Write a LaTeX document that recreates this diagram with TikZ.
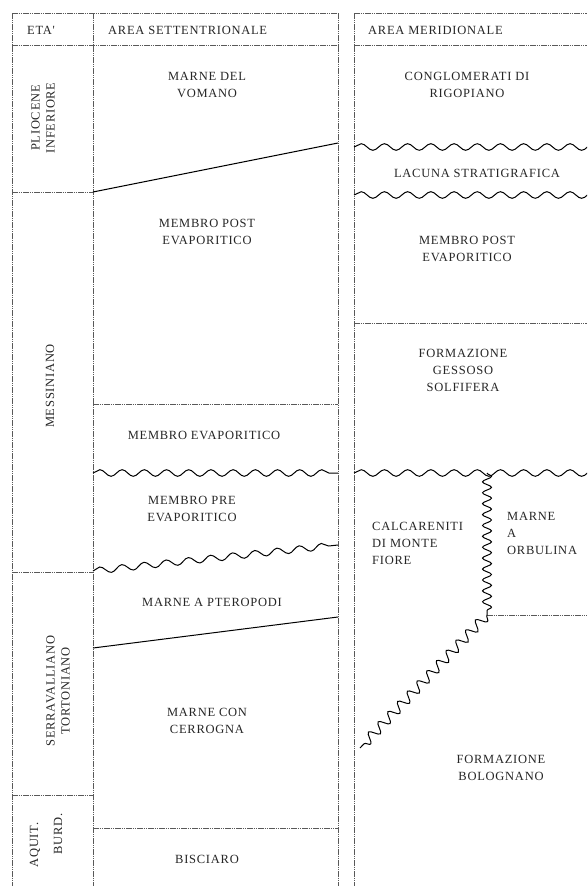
\documentclass[tikz,border=0pt]{standalone}
\usepackage{fontspec}
\setmainfont{Liberation Serif}
\newfontfamily\lblfam[LetterSpace=6]{Liberation Serif}
\usetikzlibrary{decorations.pathmorphing}
\tikzset{
  gridline/.style={draw=black!65, line width=0.6pt, dash pattern=on 1.6pt off 0.6pt},
  bound/.style={draw=black, line width=1pt},
  wavy/.style={draw=black, line width=1pt, decorate,
    decoration={snake, segment length=#1, amplitude=3.3pt}},
  wavy/.default=22.2pt,
  vwavy/.style={draw=black, line width=1pt, decorate,
    decoration={snake, segment length=10.9pt, amplitude=4.5pt}},
  dwavy/.style={draw=black, line width=1pt, decorate,
    decoration={snake, segment length=14.1pt, amplitude=5pt}},
  lbl/.style={font=\lblfam\fontsize{12.5}{17}\selectfont, align=center, text=black!85, inner sep=0pt},
  agelbl/.style={font=\lblfam\fontsize{12.5}{15}\selectfont, align=center, text=black!85, inner sep=0pt, rotate=90},
}
\begin{document}
\begin{tikzpicture}[x=1pt,y=-1pt]
\useasboundingbox (0,0) rectangle (587,886);
\fill[white] (0,0) rectangle (587,886);

% ---- coordinates: left table
\coordinate (LTL) at (12,13);   \coordinate (LBL) at (12,886);
\coordinate (LTM) at (93,13);   \coordinate (LBM) at (93,886);
\coordinate (LTR) at (338,13);  \coordinate (LBR) at (338,886);
\coordinate (LHL) at (12,45);   \coordinate (LHR) at (338,45);
\coordinate (A1L) at (12,192);  \coordinate (A1R) at (93,192);
\coordinate (A2L) at (12,572);  \coordinate (A2R) at (93,572);
\coordinate (A3L) at (12,795);  \coordinate (A3R) at (93,795);
\coordinate (S1L) at (93,192);  \coordinate (S1R) at (338,143);
\coordinate (D1L) at (93,404);  \coordinate (D1R) at (338,404);
\coordinate (W1L) at (93,473);  \coordinate (W1R) at (338,473);
\coordinate (W2L) at (93,571);  \coordinate (W2R) at (338,545);
\coordinate (S2L) at (93,648);  \coordinate (S2R) at (338,617);
\coordinate (D2L) at (93,828);  \coordinate (D2R) at (338,828);

% ---- coordinates: right table
\coordinate (RTL) at (354,13);  \coordinate (RBL) at (354,886);
\coordinate (RTR) at (587,13);
\coordinate (RHL) at (354,45);  \coordinate (RHR) at (587,45);
\coordinate (RW1L) at (354,147); \coordinate (RW1R) at (610,147);
\coordinate (RW2L) at (354,195); \coordinate (RW2R) at (610,195);
\coordinate (RD1L) at (354,323); \coordinate (RD1R) at (587,323);
\coordinate (RW3L) at (354,473); \coordinate (RW3R) at (610,473);
\coordinate (J1) at (487,473);
\coordinate (J2) at (487,615);
\coordinate (RD2R) at (587,615);
\coordinate (JE) at (360,748);

% ---- grid lines
\draw[gridline] (LTL) -- (LBL);
\draw[gridline] (LTM) -- (LBM);
\draw[gridline] (LTR) -- (LBR);
\draw[gridline] (LTL) -- (LTR);
\draw[gridline] (LHL) -- (LHR);
\draw[gridline] (A1L) -- (A1R);
\draw[gridline] (A2L) -- (A2R);
\draw[gridline] (A3L) -- (A3R);
\draw[gridline] (D1L) -- (D1R);
\draw[gridline] (D2L) -- (D2R);

\draw[gridline] (RTL) -- (RBL);
\draw[gridline] (RTL) -- (RTR);
\draw[gridline] (RHL) -- (RHR);
\draw[gridline] (RD1L) -- (RD1R);
\draw[gridline] (J2) -- (RD2R);

% ---- boundaries
\draw[bound] (S1L) -- (S1R);
\draw[bound] (S2L) -- (S2R);
\draw[wavy=22.2pt] (W1L) -- (W1R);
\draw[wavy=22.3pt] (W2L) -- (W2R);
\begin{scope}
  \clip (0,0) rectangle (587,886);
  \draw[wavy=23.2pt] (RW1L) -- (RW1R);
  \draw[wavy=23.2pt] (RW2L) -- (RW2R);
  \draw[wavy=23.2pt] (RW3L) -- (RW3R);
\end{scope}
\draw[vwavy] (J1) -- (J2);
\draw[dwavy] (J2) -- (JE);

% ---- headers
\node[lbl, anchor=west] (eta) at (27,30) {ETA'};
\node[lbl, anchor=west] (sett) at (108,30) {AREA SETTENTRIONALE};
\node[lbl, anchor=west] (merid) at (368,30) {AREA MERIDIONALE};

% ---- ages
\node[agelbl] (plio) at (43,118) {PLIOCENE\\INFERIORE};
\node[agelbl] (mess) at (50,386) {MESSINIANO};
\node[agelbl] (serr) at (58,691) {SERRAVALLIANO\\TORTONIANO};
\node[agelbl] (aquit) at (35,845) {AQUIT.};
\node[agelbl] (burd) at (58,834) {BURD.};

% ---- northern area
\node[lbl] (vomano) at (207,85) {MARNE DEL\\VOMANO};
\node[lbl] (postN) at (207,232) {MEMBRO POST\\EVAPORITICO};
\node[lbl] (evap) at (204,435) {MEMBRO EVAPORITICO};
\node[lbl] (pre) at (192,509) {MEMBRO PRE\\EVAPORITICO};
\node[lbl] (ptero) at (212,602) {MARNE A PTEROPODI};
\node[lbl] (cerr) at (207,721) {MARNE CON\\CERROGNA};
\node[lbl] (bisc) at (207,859) {BISCIARO};

% ---- southern area
\node[lbl] (rigo) at (467,85) {CONGLOMERATI DI\\RIGOPIANO};
\node[lbl] (lacuna) at (477,173) {LACUNA STRATIGRAFICA};
\node[lbl] (postS) at (467,249) {MEMBRO POST\\EVAPORITICO};
\node[lbl] (gess) at (463,370) {FORMAZIONE\\GESSOSO\\SOLFIFERA};
\node[lbl, align=left, anchor=west] (calc) at (372,543) {CALCARENITI\\DI MONTE\\FIORE};
\node[lbl, align=left, anchor=west] (orb) at (507,533) {MARNE\\A\\ORBULINA};
\node[lbl] (bolo) at (501,768) {FORMAZIONE\\BOLOGNANO};
\end{tikzpicture}
\end{document}
